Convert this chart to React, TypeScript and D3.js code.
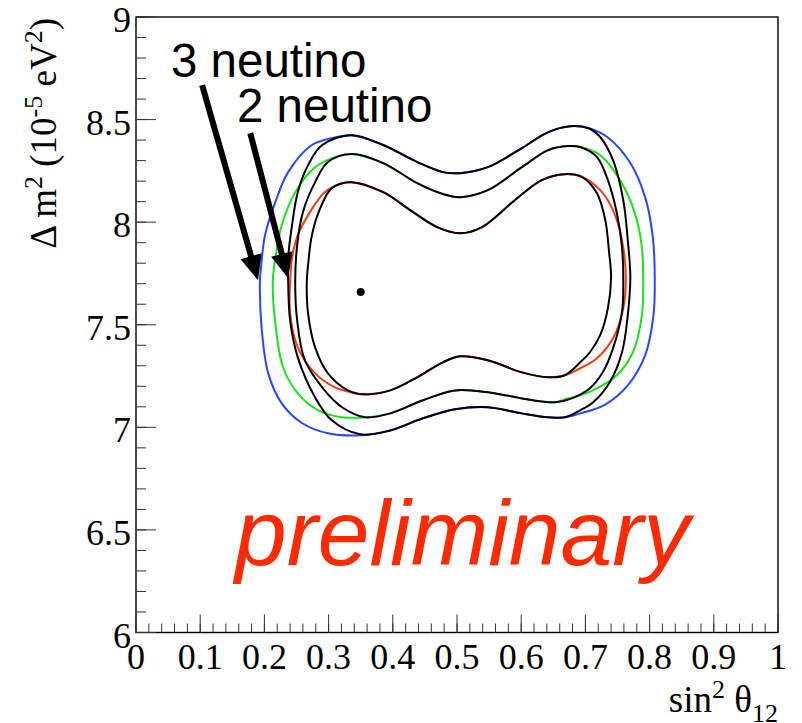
import React from "react";
import * as d3 from "d3";

// axis ticks
const xTickValues = [0, 0.1, 0.2, 0.3, 0.4, 0.5, 0.6, 0.7, 0.8, 0.9, 1];
const xTickLabels = ["0", "0.1", "0.2", "0.3", "0.4", "0.5", "0.6", "0.7", "0.8", "0.9", "1"];
const yTickValues = [6, 6.5, 7, 7.5, 8, 8.5, 9];
const yTickLabels = ["6", "6.5", "7", "7.5", "8", "8.5", "9"];

// 3 neutrino contours (black): [sin^2 theta12, dm2 in 1e-5 eV2]
const black3Sigma = [
  [0.237, 7.717], [0.237, 7.824], [0.243, 7.985], [0.252, 8.146], [0.268, 8.278], [0.29, 8.376],
  [0.336, 8.424], [0.385, 8.376], [0.438, 8.293], [0.478, 8.244], [0.505, 8.239], [0.548, 8.268],
  [0.601, 8.361], [0.642, 8.439], [0.676, 8.468], [0.704, 8.459], [0.723, 8.415], [0.743, 8.302],
  [0.759, 8.107], [0.766, 7.912], [0.77, 7.732], [0.766, 7.546], [0.757, 7.366], [0.738, 7.22],
  [0.712, 7.122], [0.692, 7.083], [0.668, 7.049], [0.642, 7.049], [0.601, 7.068], [0.548, 7.098],
  [0.497, 7.088], [0.447, 7.044], [0.396, 6.985], [0.349, 6.966], [0.305, 7.034], [0.279, 7.146],
  [0.252, 7.341], [0.24, 7.522],
];
const black2Sigma = [
  [0.248, 7.707], [0.251, 7.888], [0.26, 8.049], [0.279, 8.195], [0.299, 8.293], [0.336, 8.332],
  [0.385, 8.288], [0.438, 8.19], [0.478, 8.137], [0.505, 8.122], [0.548, 8.156], [0.601, 8.268],
  [0.642, 8.351], [0.673, 8.371], [0.692, 8.366], [0.718, 8.317], [0.735, 8.205], [0.749, 8.044],
  [0.757, 7.878], [0.759, 7.732], [0.757, 7.561], [0.743, 7.385], [0.727, 7.268], [0.707, 7.19],
  [0.679, 7.141], [0.653, 7.122], [0.601, 7.141], [0.548, 7.171], [0.497, 7.18], [0.447, 7.132],
  [0.396, 7.068], [0.357, 7.049], [0.321, 7.098], [0.29, 7.195], [0.263, 7.327], [0.251, 7.522],
];
const black1Sigma = [
  [0.266, 7.707], [0.268, 7.79], [0.274, 7.937], [0.287, 8.068], [0.305, 8.166], [0.336, 8.195],
  [0.385, 8.146], [0.427, 8.059], [0.469, 7.976], [0.505, 7.946], [0.539, 7.976], [0.59, 8.107],
  [0.632, 8.205], [0.668, 8.234], [0.695, 8.22], [0.718, 8.141], [0.731, 8.01], [0.737, 7.849],
  [0.74, 7.732], [0.735, 7.58], [0.723, 7.449], [0.707, 7.366], [0.692, 7.317], [0.668, 7.254],
  [0.642, 7.244], [0.601, 7.268], [0.548, 7.327], [0.505, 7.346], [0.478, 7.317], [0.438, 7.244],
  [0.396, 7.18], [0.354, 7.161], [0.33, 7.18], [0.299, 7.263], [0.279, 7.39], [0.268, 7.556],
];

// 2 neutrino contours (coloured)
const blueContour = [
  [0.193, 7.707], [0.195, 7.79], [0.201, 7.937], [0.217, 8.098], [0.237, 8.244], [0.274, 8.376],
  [0.321, 8.42], [0.336, 8.424], [0.385, 8.376], [0.438, 8.293], [0.478, 8.244], [0.505, 8.239],
  [0.548, 8.268], [0.601, 8.361], [0.642, 8.439], [0.676, 8.468], [0.704, 8.459], [0.734, 8.415],
  [0.77, 8.288], [0.793, 8.122], [0.805, 7.927], [0.808, 7.732], [0.806, 7.546], [0.793, 7.351],
  [0.766, 7.205], [0.73, 7.11], [0.692, 7.068], [0.668, 7.049], [0.642, 7.049], [0.601, 7.068],
  [0.548, 7.098], [0.497, 7.088], [0.447, 7.044], [0.396, 6.985], [0.349, 6.961], [0.299, 6.971],
  [0.259, 7.02], [0.227, 7.117], [0.206, 7.263], [0.196, 7.473],
];
const greenContour = [
  [0.213, 7.707], [0.217, 7.824], [0.227, 7.985], [0.248, 8.146], [0.279, 8.268], [0.315, 8.322],
  [0.336, 8.332], [0.385, 8.288], [0.438, 8.19], [0.478, 8.137], [0.505, 8.122], [0.548, 8.156],
  [0.601, 8.268], [0.642, 8.351], [0.673, 8.371], [0.692, 8.366], [0.723, 8.327], [0.754, 8.205],
  [0.777, 8.044], [0.788, 7.878], [0.79, 7.732], [0.788, 7.546], [0.774, 7.366], [0.749, 7.254],
  [0.718, 7.19], [0.692, 7.156], [0.668, 7.137], [0.653, 7.122], [0.601, 7.141], [0.548, 7.171],
  [0.497, 7.18], [0.447, 7.132], [0.396, 7.068], [0.357, 7.049], [0.321, 7.049], [0.284, 7.083],
  [0.252, 7.166], [0.229, 7.293], [0.217, 7.507],
];
const redContour = [
  [0.24, 7.707], [0.243, 7.824], [0.252, 7.937], [0.271, 8.049], [0.294, 8.146], [0.321, 8.19],
  [0.336, 8.195], [0.385, 8.146], [0.427, 8.059], [0.469, 7.976], [0.505, 7.946], [0.539, 7.976],
  [0.59, 8.107], [0.632, 8.205], [0.668, 8.234], [0.695, 8.22], [0.723, 8.156], [0.743, 8.059],
  [0.757, 7.912], [0.763, 7.732], [0.759, 7.58], [0.743, 7.434], [0.718, 7.337], [0.692, 7.288],
  [0.668, 7.254], [0.642, 7.244], [0.601, 7.268], [0.548, 7.327], [0.505, 7.346], [0.478, 7.317],
  [0.438, 7.244], [0.396, 7.18], [0.354, 7.161], [0.341, 7.166], [0.31, 7.195], [0.279, 7.263],
  [0.252, 7.39], [0.24, 7.556],
];

const bestFit = [0.35, 7.66];

// annotation arrows: [start, tip] in data units
const arrow3nu = [[0.103, 8.668], [0.19, 7.717]];
const arrow2nu = [[0.178, 8.434], [0.237, 7.727]];

const serif = "'Liberation Serif', 'Times New Roman', serif";
const sans = "'Liberation Sans', Arial, sans-serif";

export default function App() {
  const width = 802;
  const height = 723;
  const x = d3.scaleLinear().domain([0, 1]).range([136, 778]);
  const y = d3.scaleLinear().domain([6, 9]).range([632.5, 17]);

  const line = d3
    .line<number[]>()
    .x((d) => x(d[0]))
    .y((d) => y(d[1]))
    .curve(d3.curveCatmullRomClosed.alpha(0.5));

  const xMinor = x.ticks(50);
  const yMinor = y.ticks(30);

  const arrowShape = (a: number[][]) => {
    const x0 = x(a[0][0]), y0 = y(a[0][1]);
    const x1 = x(a[1][0]), y1 = y(a[1][1]);
    const len = Math.hypot(x1 - x0, y1 - y0);
    const ux = (x1 - x0) / len, uy = (y1 - y0) / len;
    const headLen = 25, headW = 11;
    const bx = x1 - ux * headLen, by = y1 - uy * headLen;
    const pts = [
      [x1, y1],
      [bx - uy * headW, by + ux * headW],
      [bx + uy * headW, by - ux * headW],
    ];
    return { x0, y0, bx: bx + ux * 3, by: by + uy * 3, pts: pts.map((p) => p.join(",")).join(" ") };
  };

  const arrows = [arrow3nu, arrow2nu].map(arrowShape);

  return (
    <svg
      width={width}
      height={height}
      style={{ position: "absolute", left: 0, top: 0, background: "#fff" }}
    >
      {/* coloured 2 neutrino contours */}
      <g fill="none" strokeWidth={2}>
        <path d={line(blueContour) || ""} stroke="#2a45ff" />
        <path d={line(greenContour) || ""} stroke="#1ee01e" />
        <path d={line(redContour) || ""} stroke="#ff3a10" />
      </g>
      {/* black 3 neutrino contours */}
      <g fill="none" stroke="#000" strokeWidth={2}>
        <path d={line(black3Sigma) || ""} />
        <path d={line(black2Sigma) || ""} />
        <path d={line(black1Sigma) || ""} />
      </g>
      <circle cx={x(bestFit[0])} cy={y(bestFit[1])} r={4} fill="#000" />

      {/* arrows */}
      {arrows.map((a, i) => (
        <g key={i}>
          <line x1={a.x0} y1={a.y0} x2={a.bx} y2={a.by} stroke="#000" strokeWidth={6} />
          <polygon points={a.pts} fill="#000" />
        </g>
      ))}

      <g fontFamily={sans} fontSize={47.5} fill="#000">
        <text x={171} y={77}>3 neutino</text>
        <text x={237} y={122}>2 neutino</text>
      </g>

      <text
        x={235}
        y={565}
        fontFamily={sans}
        fontStyle="italic"
        fontSize={93}
        fill="#ff2a00"
      >
        preliminary
      </text>

      {/* frame */}
      <rect
        x={x(0)}
        y={y(9)}
        width={x(1) - x(0)}
        height={y(6) - y(9)}
        fill="none"
        stroke="#000"
        strokeWidth={1.4}
      />

      {/* ticks */}
      <g stroke="#333" strokeWidth={1}>
        {xMinor.map((t) => (
          <line key={"xm" + t} x1={x(t)} x2={x(t)} y1={y(6)} y2={y(6) - 9} />
        ))}
        {xTickValues.map((t) => (
          <line key={"xM" + t} x1={x(t)} x2={x(t)} y1={y(6)} y2={y(6) - 18} />
        ))}
        {yMinor.map((t) => (
          <line key={"ym" + t} x1={x(0)} x2={x(0) + 10} y1={y(t)} y2={y(t)} />
        ))}
        {yTickValues.map((t) => (
          <line key={"yM" + t} x1={x(0)} x2={x(0) + 20} y1={y(t)} y2={y(t)} />
        ))}
      </g>

      <g fontFamily={serif} fontSize={36} fill="#000">
        {xTickValues.map((t, i) => (
          <text key={"xl" + t} x={x(t)} y={y(6) + 36} textAnchor="middle">
            {xTickLabels[i]}
          </text>
        ))}
        {yTickValues.map((t, i) => (
          <text key={"yl" + t} x={131} y={y(t) + 15} textAnchor="end">
            {yTickLabels[i]}
          </text>
        ))}
      </g>

      {/* axis titles */}
      <text x={778} y={712} textAnchor="end" fontFamily={serif} fontSize={37}>
        sin
        <tspan dy={-14} fontSize={26}>2</tspan>
        <tspan dy={14}> θ</tspan>
        <tspan dy={10} fontSize={26}>12</tspan>
      </text>
      <text
        transform="translate(56,18) rotate(-90)"
        textAnchor="end"
        fontFamily={serif}
        fontSize={37}
      >
        Δ m
        <tspan dy={-14} fontSize={26}>2</tspan>
        <tspan dy={14}> (10</tspan>
        <tspan dy={-14} fontSize={26}>-5</tspan>
        <tspan dy={14}> eV</tspan>
        <tspan dy={-14} fontSize={26}>2</tspan>
        <tspan dy={14}>)</tspan>
      </text>
    </svg>
  );
}
